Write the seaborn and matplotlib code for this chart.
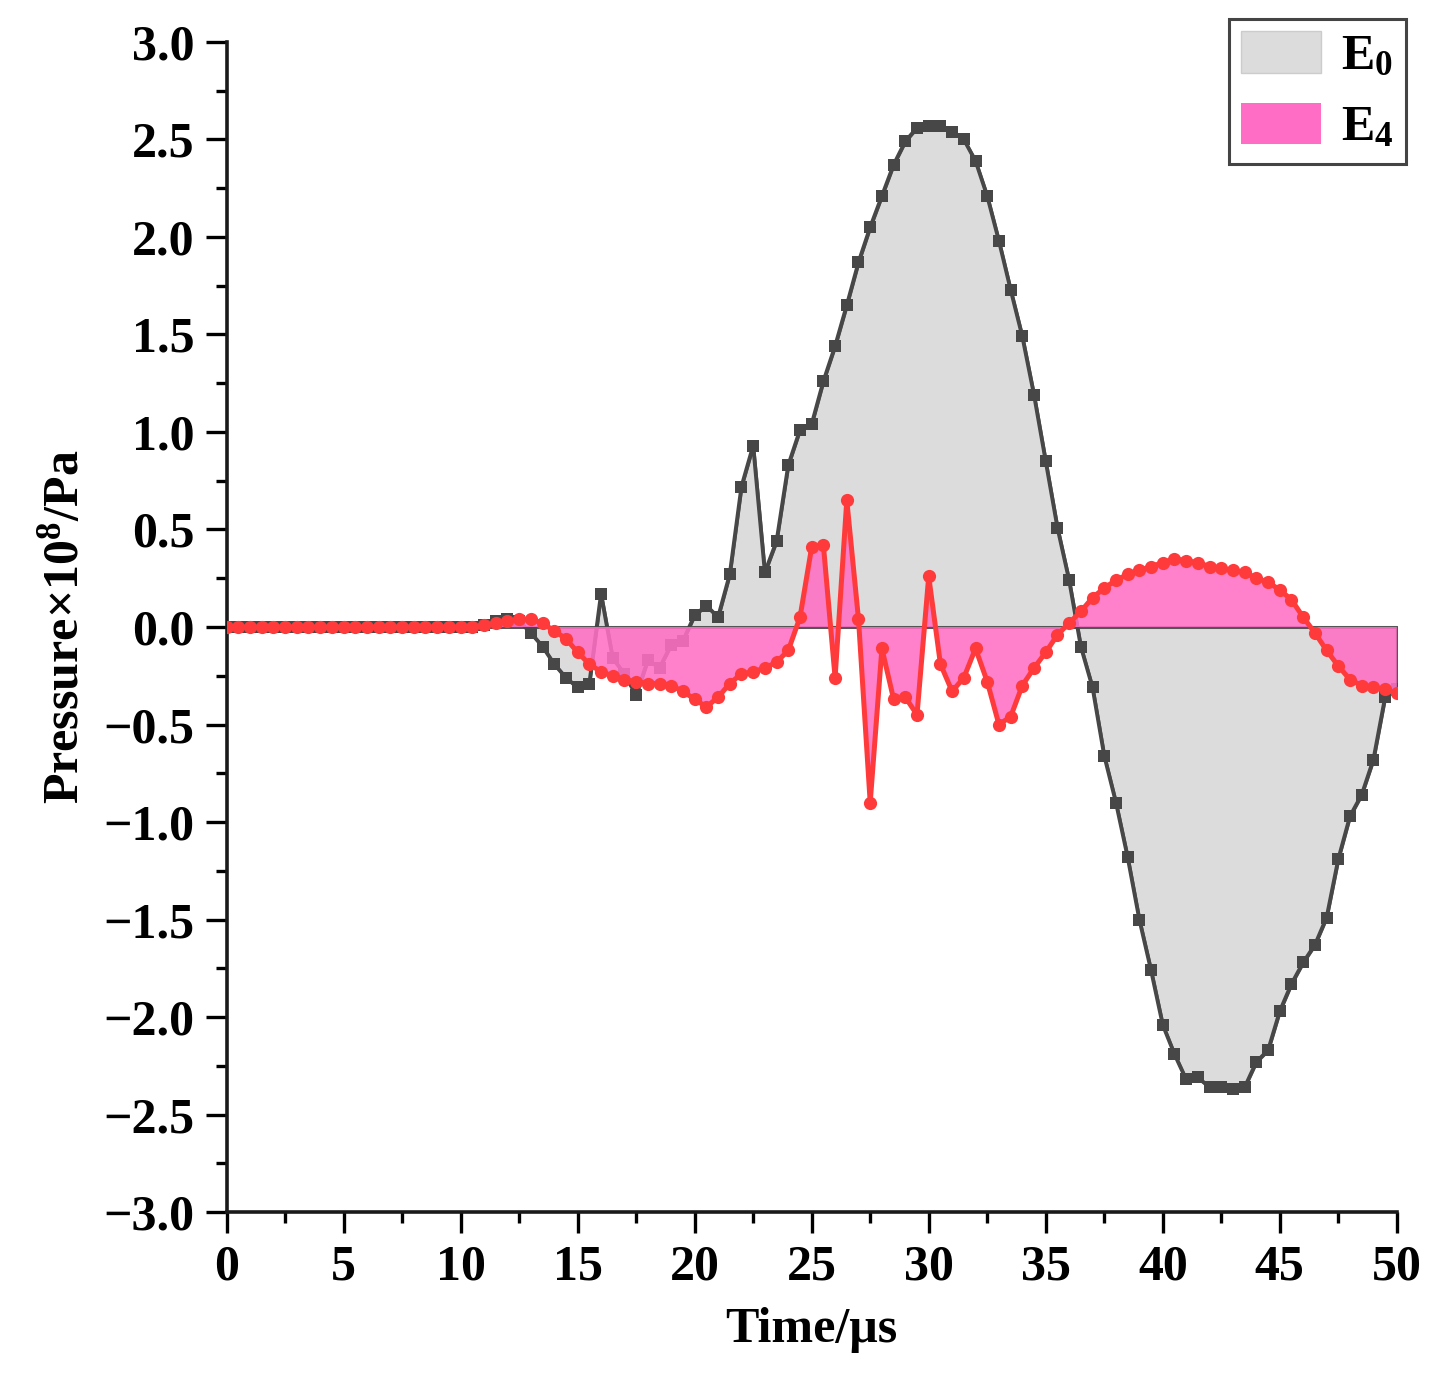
import numpy as np
import seaborn as sns
import matplotlib.pyplot as plt
from matplotlib.patches import Patch
from matplotlib.ticker import MultipleLocator

# sampling grid, 0.5 us step
time_us = np.linspace(0, 50, 101)

# E0 pressure (x1e8 Pa)
e0 = [0.0] * 21 + [
    0.00, 0.01, 0.03, 0.04, 0.03,                      # 10.5 - 12.5
    -0.03, -0.10, -0.19, -0.26, -0.31, -0.29,          # 13 - 15.5
    0.17, -0.16, -0.24, -0.35, -0.17, -0.21,           # 16 - 18.5
    -0.09, -0.07, 0.06, 0.11, 0.05, 0.27,              # 19 - 21.5
    0.72, 0.93, 0.28, 0.44, 0.83, 1.01,                # 22 - 24.5
    1.04, 1.26, 1.44, 1.65, 1.87, 2.05,                # 25 - 27.5
    2.21, 2.37, 2.49, 2.56, 2.57, 2.57,                # 28 - 30.5
    2.54, 2.50, 2.39, 2.21, 1.98, 1.73,                # 31 - 33.5
    1.49, 1.19, 0.85, 0.51, 0.24, -0.10,               # 34 - 36.5
    -0.31, -0.66, -0.90, -1.18, -1.50, -1.76,          # 37 - 39.5
    -2.04, -2.19, -2.32, -2.31, -2.36, -2.36,          # 40 - 42.5
    -2.37, -2.36, -2.23, -2.17, -1.97, -1.83,          # 43 - 45.5
    -1.72, -1.63, -1.49, -1.19, -0.97, -0.86,          # 46 - 48.5
    -0.68, -0.36, -0.32,                               # 49 - 50
]

# E4 pressure (x1e8 Pa)
e4 = [0.0] * 21 + [
    0.00, 0.01, 0.02, 0.03, 0.04,                      # 10.5 - 12.5
    0.04, 0.02, -0.02, -0.06, -0.13, -0.19,            # 13 - 15.5
    -0.23, -0.25, -0.27, -0.28, -0.29, -0.29,          # 16 - 18.5
    -0.30, -0.33, -0.37, -0.41, -0.36, -0.29,          # 19 - 21.5
    -0.24, -0.23, -0.21, -0.18, -0.12, 0.05,           # 22 - 24.5
    0.41, 0.42, -0.26, 0.65, 0.04, -0.90,              # 25 - 27.5
    -0.11, -0.37, -0.36, -0.45, 0.26, -0.19,           # 28 - 30.5
    -0.33, -0.26, -0.11, -0.28, -0.50, -0.46,          # 31 - 33.5
    -0.30, -0.21, -0.13, -0.04, 0.02, 0.08,            # 34 - 36.5
    0.15, 0.20, 0.24, 0.27, 0.29, 0.31,                # 37 - 39.5
    0.33, 0.35, 0.34, 0.33, 0.31, 0.30,                # 40 - 42.5
    0.29, 0.28, 0.25, 0.23, 0.19, 0.14,                # 43 - 45.5
    0.05, -0.03, -0.12, -0.20, -0.27, -0.30,           # 46 - 48.5
    -0.31, -0.32, -0.34,                               # 49 - 50
]

series_labels = ['$\\mathbf{E_0}$', '$\\mathbf{E_4}$']

GRAY_FILL = '#dcdcdc'
GRAY_LINE = '#474747'
PINK_FILL = '#ff6ec4'
RED_LINE = '#ff3a3a'

sns.set_style('ticks')
plt.rcParams['font.family'] = ['Liberation Serif', 'DejaVu Serif']
plt.rcParams['font.weight'] = 'bold'
plt.rcParams['text.color'] = 'black'
plt.rcParams['axes.labelcolor'] = 'black'
plt.rcParams['xtick.color'] = 'black'
plt.rcParams['ytick.color'] = 'black'
plt.rcParams['mathtext.fontset'] = 'custom'
plt.rcParams['mathtext.rm'] = 'Liberation Serif:bold'
plt.rcParams['mathtext.bf'] = 'Liberation Serif:bold'
plt.rcParams['mathtext.it'] = 'Liberation Serif:bold'

fig = plt.figure(figsize=(14.43, 13.75), dpi=100)
ax = fig.add_axes([0.157, 0.1185, 0.811, 0.851])

ax.fill_between(time_us, e0, 0, facecolor=GRAY_FILL, edgecolor='#555555',
                linewidth=2.2, zorder=1)
sns.lineplot(x=time_us, y=e0, ax=ax, color=GRAY_LINE, linewidth=2.8,
             marker='s', markersize=8, markeredgewidth=0, estimator=None,
             zorder=2)
ax.fill_between(time_us, e4, 0, facecolor=PINK_FILL, edgecolor='none',
                alpha=0.88, zorder=3)
sns.lineplot(x=time_us, y=e4, ax=ax, color=RED_LINE, linewidth=3.6,
             marker='o', markersize=9.5, markeredgewidth=0, estimator=None,
             zorder=4)

ax.set_xlim(0, 50)
ax.set_ylim(-3, 3)
ax.xaxis.set_major_locator(MultipleLocator(5))
ax.xaxis.set_minor_locator(MultipleLocator(2.5))
ax.yaxis.set_major_locator(MultipleLocator(0.5))
ax.yaxis.set_minor_locator(MultipleLocator(0.25))
ax.yaxis.set_major_formatter(plt.FuncFormatter(lambda v, p: f'{v:.1f}'.replace('-', '\u2212')))

ax.tick_params(which='major', direction='out', length=15, width=2.4,
               labelsize=36, pad=8)
ax.tick_params(which='minor', direction='out', length=8, width=2.4)
for lab in ax.get_xticklabels() + ax.get_yticklabels():
    lab.set_fontweight('bold')

sns.despine(ax=ax)
for side in ['left', 'bottom']:
    ax.spines[side].set_linewidth(2.6)
    ax.spines[side].set_color('#1a1a1a')

ax.set_xlabel('Time/\u03bcs', fontsize=36, fontweight='bold', labelpad=12)
ax.set_ylabel('Pressure\u00d710$^{8}$/Pa', fontsize=36, fontweight='bold',
              labelpad=10)

handles = [Patch(facecolor=GRAY_FILL, edgecolor='#cccccc'),
           Patch(facecolor=PINK_FILL, edgecolor='none')]
leg = ax.legend(handles, series_labels, loc='upper right',
                bbox_to_anchor=(1.008, 1.02), fontsize=36, frameon=True,
                fancybox=False, edgecolor='#444444', framealpha=1,
                handlelength=1.6, handleheight=0.9, handletextpad=0.4,
                borderpad=0.25, labelspacing=0.45, borderaxespad=0)
leg.get_frame().set_linewidth(2.2)

fig.savefig('out.png', dpi=100)
